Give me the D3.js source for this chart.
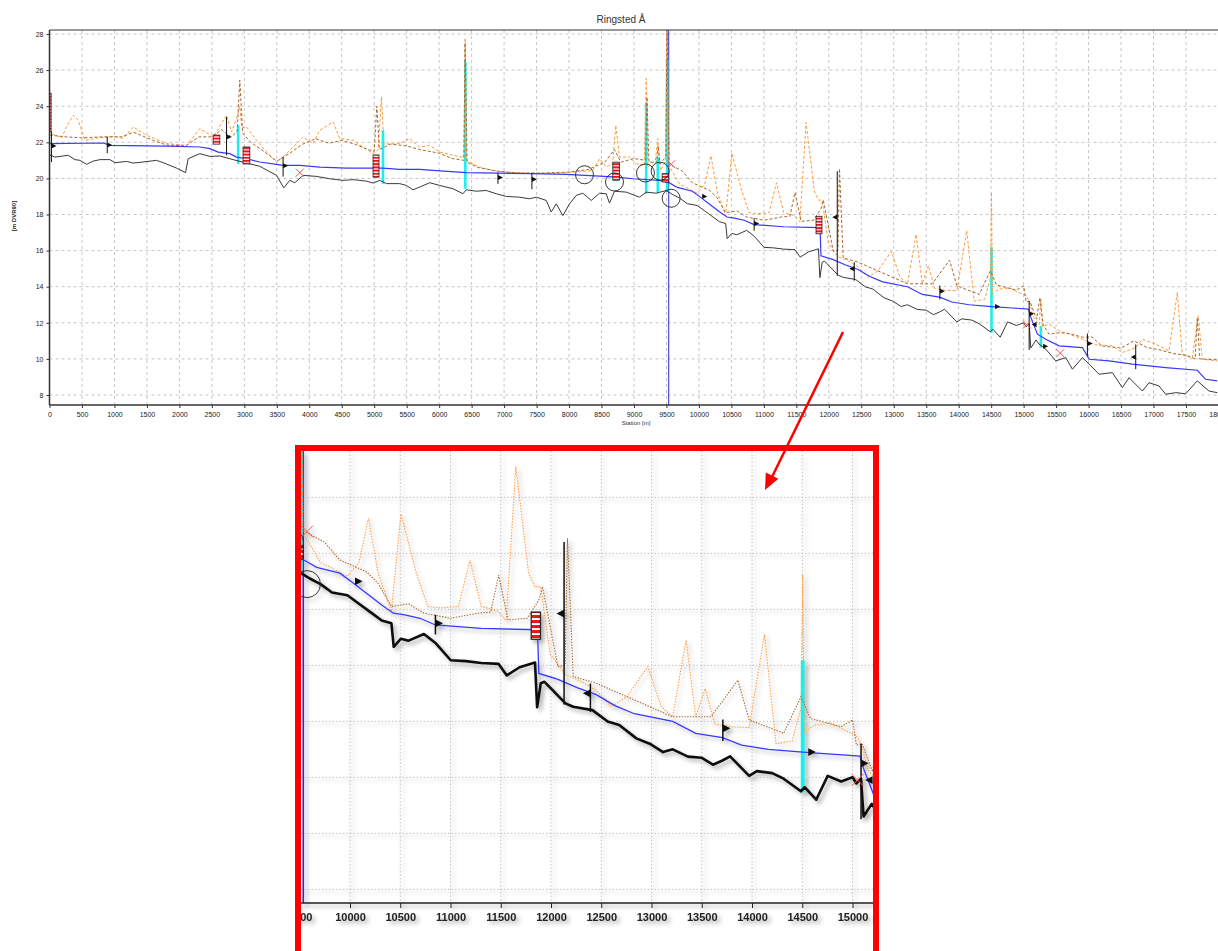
<!DOCTYPE html>
<html><head><meta charset="utf-8">
<script src="https://cdn.jsdelivr.net/npm/d3@7"></script>
<style>body{margin:0;background:#fff}svg{display:block;font-family:"Liberation Sans",Arial,sans-serif}</style>
</head><body>
<svg id="c" width="1218" height="951"></svg>
<script>
// ---------------- DATA ----------------
const title = "Ringsted Å";
const yLabel = "[m DVR90]";
const xLabel = "Station [m]";
const xTicks = d3.range(0, 18001, 500);
const yTicks = d3.range(8, 29, 2);
const insetXTicks = d3.range(9500, 15001, 500);
const insetYTicks = d3.range(8, 23, 2);

const bedStation = [0,85,289,392,469,572,674,777,931,1008,1188,1289,1443,1649,1751,1957,2095,2135,2315,2469,2623,2828,3034,3238,3495,3608,3700,3777,3905,4111,4315,4520,4674,4880,4982,5085,5188,5392,5495,5597,5700,5854,6008,6212,6366,6418,6572,6726,6880,7034,7238,7392,7495,7649,7726,7803,7905,8008,8111,8212,8342,8469,8572,8623,8700,8880,9085,9188,9342,9495,9600,9707,9821,9974,10089,10203,10316,10412,10435,10507,10583,10736,10850,11002,11154,11306,11479,11560,11688,11841,11862,11898,11935,12144,12221,12412,12564,12679,12849,12982,13115,13211,13363,13497,13611,13706,13782,13972,14048,14201,14315,14487,14524,14639,14753,14887,15001,15039,15085,15110,15191,15238,15341,15495,15649,15751,15905,16008,16162,16366,16520,16623,16828,16931,17085,17188,17342,17495,17674,17854,17980];
const bedLevel = [21.3,21.18,21.28,21.04,21.0,20.78,20.96,21.04,21.04,20.87,20.94,20.85,20.91,21.0,20.87,20.57,20.32,21.09,21.37,21.22,21.24,21.04,20.85,20.67,20.17,19.48,19.89,19.76,20.17,20.11,19.98,19.89,19.93,19.85,19.74,19.89,19.71,19.71,19.61,19.37,19.52,19.76,19.61,19.43,19.15,19.37,19.29,19.33,19.15,19.0,18.96,18.87,18.96,18.78,18.14,18.59,17.94,18.59,19.06,19.18,18.78,19.18,19.15,18.63,19.29,19.24,18.96,19.24,19.18,19.33,19.1,18.9,18.6,18.5,18.2,17.9,17.6,17.5,16.66,16.95,16.88,17.12,16.8,16.18,16.15,16.08,16.05,15.64,15.93,16.1,14.5,15.36,15.41,14.64,14.52,14.4,13.99,13.87,13.39,13.2,12.9,13.0,12.74,12.7,12.45,12.6,12.75,12.05,12.22,12.15,11.95,11.5,11.65,11.2,12.05,11.85,12.0,11.78,11.95,10.6,11.05,10.82,10.54,9.89,10.07,9.43,10.07,9.71,9.15,9.24,8.41,8.96,8.22,8.68,8.5,8.04,8.13,8.07,8.78,8.22,8.13];

const wlStation = [0,828,931,1803,2315,2469,2597,2777,2880,3034,3238,3495,3597,3854,4162,4572,5135,5392,5700,5905,6418,6931,7443,7957,8469,8726,8982,9392,9546,9669,9898,10012,10164,10316,10431,10545,10697,10850,11306,11841,11866,11879,12069,12259,12450,12640,12830,13211,13440,13706,13896,14163,14505,14828,15075,15111,15212,15341,15546,15905,16008,16315,16674,17188,17674,17803,17980];
const wlLevel = [21.93,21.96,21.83,21.79,21.74,21.65,21.46,21.37,21.18,21.09,20.91,20.78,20.72,20.72,20.63,20.57,20.57,20.5,20.5,20.44,20.32,20.29,20.26,20.22,20.13,20.07,19.98,19.89,19.75,19.5,19.29,18.99,18.57,18.15,17.86,17.8,17.68,17.44,17.32,17.27,17.2,15.71,15.5,15.2,14.95,14.55,14.27,14.0,13.57,13.42,13.15,13.0,12.9,12.82,12.76,12.3,11.37,11.09,10.72,10.63,9.98,9.89,9.71,9.52,9.37,8.87,8.78];

const leftBankStation = [0,15,188,265,366,443,546,777,1008,1135,1289,1495,1803,2111,2315,2520,2726,2803,2880,2930,2960,3034,3188,3342,3495,3597,3751,3905,4058,4162,4366,4469,4674,4982,5060,5111,5150,5392,5546,5700,5854,6008,6212,6380,6400,6420,6623,6828,7034,7443,7854,8366,8469,8572,8670,8720,8777,8931,9034,9160,9188,9215,9330,9366,9408,9490,9505,9530,9555,9707,9784,9974,10089,10184,10279,10412,10507,10660,10774,10900,11079,11194,11306,11469,11554,11650,11777,11840,11898,11992,12144,12298,12450,12602,12755,12963,13097,13211,13344,13440,13534,13630,13800,13972,14124,14239,14400,14490,14505,14520,14623,14777,15034,15085,15150,15240,15265,15290,15392,15546,15700,15905,16111,16366,16520,16726,16828,17034,17238,17366,17443,17597,17689,17751,17980];
const leftBankLevel = [25.2,22.5,22.26,22.89,23.5,23.22,22.11,22.26,22.33,22.21,22.85,22.39,21.93,21.83,22.76,22.29,23.5,22.57,23.3,24.0,22.8,22.85,22.11,21.46,20.9,21.18,21.74,22.29,21.93,22.67,23.13,22.21,22.11,21.37,21.6,24.52,21.9,21.93,22.21,21.74,21.83,21.46,21.28,21.17,27.78,21.0,20.63,20.44,20.35,20.26,20.29,20.44,21.09,20.63,20.83,22.94,21.18,21.18,20.81,20.72,25.54,20.63,21.0,22.2,20.44,21.0,28.8,21.0,20.6,19.66,19.54,19.18,19.66,21.26,19.3,17.93,21.4,19.3,18.1,18.05,18.1,19.76,18.1,17.94,17.6,23.1,19.3,18.8,18.8,16.4,15.66,15.43,15.1,14.52,14.88,15.95,14.52,14.16,16.9,14.16,15.17,13.9,13.8,13.78,17.1,13.2,13.3,14.5,19.24,13.6,13.87,13.93,13.5,13.22,12.3,11.9,13.3,11.8,11.93,11.56,11.37,11.09,10.78,10.72,10.35,10.63,11.09,10.82,10.44,13.68,10.26,10.07,12.39,9.98,9.89];

const rightBankStation = [0,250,500,800,1100,1300,1600,1800,2100,2300,2500,2650,2800,2890,2930,2975,3100,3300,3500,3700,3900,4100,4300,4500,4700,4900,5000,5040,5080,5250,5500,5700,6000,6200,6380,6400,6430,6600,6900,7200,7600,8000,8300,8550,8700,8800,9000,9180,9200,9230,9350,9370,9400,9490,9510,9540,9745,9898,10164,10279,10412,10583,10736,11002,11269,11400,11479,11573,11764,11879,11916,12069,12140,12164,12221,12450,12755,13211,13592,13859,13972,14315,14487,14582,14887,15001,15039,15095,15200,15250,15300,15392,15560,15700,15905,16050,16200,16500,16700,16900,17100,17300,17500,17640,17674,17710,17980];
const rightBankLevel = [22.4,22.3,22.25,22.3,22.3,22.55,22.1,21.85,21.8,22.3,22.3,22.7,22.3,22.6,25.44,22.5,22.0,21.5,20.95,21.4,21.9,22.2,21.95,22.1,21.9,21.6,21.5,24.0,21.6,21.9,21.8,21.6,21.4,21.1,21.0,27.5,20.9,20.6,20.4,20.3,20.3,20.35,20.5,20.9,21.6,20.9,21.1,21.0,24.5,20.9,20.9,21.8,20.8,21.2,28.8,20.8,20.4,19.76,19.34,18.93,18.1,18.2,17.86,17.68,17.86,17.9,19.22,17.62,17.68,18.33,18.8,15.95,16.0,20.54,15.6,15.36,14.88,14.16,14.16,15.47,14.05,13.57,14.88,14.1,13.81,14.05,13.15,13.2,12.2,13.4,11.9,11.37,11.45,11.41,11.2,11.22,10.72,10.6,11.0,10.63,10.5,10.3,10.2,10.0,12.3,10.0,9.95];

// structures (cyan): station, top level, bottom level
const structStation = [2905,5135,6403,9188,9366,9510,14505,15265];
const structTop     = [22.94,22.67,26.46,24.15,21.18,26.56,16.18,11.83];
const structBottom  = [20.8,19.7,19.43,19.15,19.18,19.24,11.46,10.63];

// culverts / bridges (striped boxes): from station, to station, top, bottom
const culvertFrom   = [-15,2520,2980,4982,8674,9434,11803];
const culvertTo     = [25,2623,3085,5074,8777,9535,11895];
const culvertTop    = [24.7,22.4,21.74,21.3,20.9,20.26,17.9];
const culvertBottom = [22.6,21.9,20.8,20.07,19.9,19.8,16.93];

// flags: station, top, bottom, triangle level, direction (1 right, -1 left)
const flagStation = [30,889,2726,3597,6905,7428,10850,12130,12392,13710,15085,15982,16726,10050,14560,15200,15300];
const flagTop     = [22.6,22.3,23.4,21.18,20.3,20.3,17.8,20.4,15.35,14.06,13.2,11.4,10.8,null,null,null,null];
const flagBottom  = [20.9,21.4,21.28,20.1,19.7,19.4,17.1,14.6,14.33,13.3,10.5,10.17,9.43,null,null,null,null];
const flagLevel   = [21.8,21.85,22.3,20.7,20.05,19.95,17.5,17.85,15.0,13.75,12.5,10.85,10.1,19.0,12.9,11.9,10.7];
const flagDir     = [1,1,1,1,1,1,1,-1,-1,1,1,1,-1,1,1,-1,1];

// circles and crosses
const circleStation = [8238,8700,9177,9403,9572];
const circleLevel   = [20.2,19.8,20.3,20.4,18.9];
const crossStation  = [3854,9573,15050,15565];
const crossLevel    = [20.32,20.78,11.9,10.32];

const cursorStation = 9535;

// ---------------- DRAW ----------------
const svg = d3.select("#c");
const defs = svg.append("defs");

function stripe(id, h) {
  const p = defs.append("pattern").attr("id", id).attr("patternUnits", "userSpaceOnUse")
    .attr("width", 10).attr("height", h);
  p.append("rect").attr("width", 10).attr("height", h).attr("fill", "#e8141c");
  p.append("rect").attr("y", h * 0.62).attr("width", 10).attr("height", h * 0.38).attr("fill", "#fff");
}
stripe("stripeMain", 3.2);
stripe("stripeInset", 5);

const sh = defs.append("filter").attr("id", "sh").attr("filterUnits", "userSpaceOnUse")
  .attr("x", 280).attr("y", 430).attr("width", 640).attr("height", 540);
sh.append("feDropShadow").attr("dx", 3).attr("dy", 3).attr("stdDeviation", 2.2)
  .attr("flood-color", "#000").attr("flood-opacity", 0.33);

const P = {l: 49.5, t: 30, r: 1218, b: 405};
const x = d3.scaleLinear().domain([0, 17500]).range([49.5, 1186]);
const y = d3.scaleLinear().domain([28, 8]).range([34, 395]);

defs.append("clipPath").attr("id", "clipMain").append("rect")
  .attr("x", P.l).attr("y", P.t).attr("width", P.r - P.l).attr("height", P.b - P.t);

function zip(s, v) { return s.map((d, i) => [d, v[i]]); }
const bed = zip(bedStation, bedLevel), wl = zip(wlStation, wlLevel),
      lb = zip(leftBankStation, leftBankLevel), rb = zip(rightBankStation, rightBankLevel);

function drawContent(g, xs, ys, k, st) {
  const line = d3.line().x(d => xs(d[0])).y(d => ys(d[1]));
  // cursor line
  g.append("line").attr("x1", xs(cursorStation)).attr("x2", xs(cursorStation))
    .attr("y1", 0).attr("y2", 951).attr("stroke", "#2b2bd0").attr("stroke-width", st.cursorW);
  // structures
  g.selectAll(null).data(structStation).join("line")
    .attr("x1", d => xs(d)).attr("x2", d => xs(d))
    .attr("y1", (d, i) => ys(structTop[i])).attr("y2", (d, i) => ys(structBottom[i]))
    .attr("stroke", "#19f0f0").attr("stroke-width", 2.6 * k);
  g.append("path").attr("d", line(lb)).attr("fill", "none").attr("stroke", "#ff9a3c")
    .attr("stroke-width", st.bankW).attr("stroke-dasharray", st.dash);
  g.append("path").attr("d", line(rb)).attr("fill", "none").attr("stroke", "#a5692f")
    .attr("stroke-width", st.bankW).attr("stroke-dasharray", st.dash);
  g.append("path").attr("d", line(bed)).attr("fill", "none").attr("stroke", st.bedC)
    .attr("stroke-width", st.bedW).attr("stroke-linejoin", "round");
  g.append("path").attr("d", line(wl)).attr("fill", "none").attr("stroke", "#3838ff")
    .attr("stroke-width", st.wlW);
  // culverts
  g.selectAll(null).data(culvertFrom).join("rect")
    .attr("x", d => xs(d)).attr("width", (d, i) => xs(culvertTo[i]) - xs(d))
    .attr("y", (d, i) => ys(culvertTop[i])).attr("height", (d, i) => ys(culvertBottom[i]) - ys(culvertTop[i]))
    .attr("fill", `url(#${st.stripe})`).attr("stroke", "#222").attr("stroke-width", 0.8 * k);
  // flags
  flagStation.forEach((s, i) => {
    const fx = xs(s);
    if (flagTop[i] !== null) {
      g.append("line").attr("x1", fx).attr("x2", fx).attr("y1", ys(flagTop[i])).attr("y2", ys(flagBottom[i]))
        .attr("stroke", "#111").attr("stroke-width", 1 * k);
    }
    const fy = ys(flagLevel[i]), d = flagDir[i], w = 5 * k, h = 2.6 * k;
    g.append("path").attr("d", `M${fx},${fy - h}L${fx + d * w},${fy}L${fx},${fy + h}Z`).attr("fill", "#111");
  });
  // circles
  g.selectAll(null).data(circleStation).join("circle")
    .attr("cx", d => xs(d)).attr("cy", (d, i) => ys(circleLevel[i])).attr("r", 9 * k)
    .attr("fill", "none").attr("stroke", "#222").attr("stroke-width", 0.9);
  // crosses
  crossStation.forEach((s, i) => {
    const cx = xs(s), cy = ys(crossLevel[i]), r = 4 * k;
    g.append("path").attr("d", `M${cx - r},${cy - r}L${cx + r},${cy + r}M${cx - r},${cy + r}L${cx + r},${cy - r}`)
      .attr("stroke", "#ff5050").attr("stroke-width", 1);
  });
}

// ---- main chart ----
const main = svg.append("g");
const grid = main.append("g").attr("stroke", "#c6c6c6").attr("stroke-dasharray", "3,3").attr("stroke-width", 1);
grid.selectAll(null).data(xTicks.filter(d => d > 0)).join("line")
  .attr("x1", d => x(d)).attr("x2", d => x(d)).attr("y1", P.t).attr("y2", P.b);
grid.selectAll(null).data(yTicks).join("line")
  .attr("x1", P.l).attr("x2", P.r).attr("y1", d => y(d)).attr("y2", d => y(d));

drawContent(main.append("g").attr("clip-path", "url(#clipMain)"), x, y, 1,
  {bedW: 1, bedC: "#3a3a3a", wlW: 1.2, bankW: 1, dash: "3,2", cursorW: 1, stripe: "stripeMain"});

// axes
const xAxis = main.append("g").attr("transform", `translate(0,${P.b})`)
  .call(d3.axisBottom(x).tickValues(xTicks).tickSize(3).tickSizeOuter(0).tickFormat(d3.format("d")));
const yAxis = main.append("g").attr("transform", `translate(${P.l},0)`)
  .call(d3.axisLeft(y).tickValues(yTicks).tickSize(3).tickSizeOuter(0).tickFormat(d3.format("d")));
[xAxis, yAxis].forEach(a => {
  a.select(".domain").remove();
  a.selectAll("line").attr("stroke", "#333");
  a.selectAll("text").attr("font-size", 7).attr("fill", "#222").attr("font-family", "Liberation Sans, Arial");
});
xAxis.selectAll("text").attr("dy", "0.9em");
main.append("line").attr("x1", P.l).attr("x2", P.r).attr("y1", P.b).attr("y2", P.b).attr("stroke", "#333").attr("stroke-width", 1.5);
main.append("line").attr("x1", P.l).attr("x2", P.l).attr("y1", P.t).attr("y2", P.b).attr("stroke", "#333").attr("stroke-width", 1.5);
main.append("line").attr("x1", P.l).attr("x2", P.r).attr("y1", P.t).attr("y2", P.t).attr("stroke", "#333").attr("stroke-width", 1.2);

main.append("text").attr("x", 621).attr("y", 23).attr("text-anchor", "middle")
  .attr("font-size", 10).attr("fill", "#333").text(title);
main.append("text").attr("transform", "translate(16,216) rotate(-90)").attr("text-anchor", "middle")
  .attr("font-size", 6).attr("font-weight", "bold").attr("fill", "#222").text(yLabel);
main.append("text").attr("x", 636).attr("y", 425).attr("text-anchor", "middle")
  .attr("font-size", 6).attr("fill", "#333").text(xLabel);

// ---- inset (magnified view) ----
const xi = d3.scaleLinear().domain([10000, 15000]).range([350, 852.5]);
const yi = d3.scaleLinear().domain([20, 8]).range([553.3, 889.3]);
const I = {l: 301, t: 451, r: 873, b: 903};
defs.append("clipPath").attr("id", "clipInset").append("rect")
  .attr("x", I.l).attr("y", I.t).attr("width", I.r - I.l).attr("height", I.b - I.t);
defs.append("clipPath").attr("id", "clipInsetAll").append("rect")
  .attr("x", I.l).attr("y", I.t).attr("width", I.r - I.l).attr("height", 500);

const inset = svg.append("g").attr("clip-path", "url(#clipInsetAll)");
inset.append("rect").attr("x", I.l).attr("y", I.t).attr("width", I.r - I.l).attr("height", 500).attr("fill", "#fff");
const ig = inset.append("g").attr("filter", "url(#sh)");
const igc = ig.append("g").attr("clip-path", "url(#clipInset)");
const igrid = igc.append("g").attr("stroke", "#c4c4c4").attr("stroke-dasharray", "1.5,2").attr("stroke-width", 1);
igrid.selectAll(null).data(insetXTicks).join("line")
  .attr("x1", d => xi(d)).attr("x2", d => xi(d)).attr("y1", I.t).attr("y2", I.b);
igrid.selectAll(null).data(insetYTicks).join("line")
  .attr("x1", I.l).attr("x2", I.r).attr("y1", d => yi(d)).attr("y2", d => yi(d));
drawContent(igc, xi, yi, 1.5,
  {bedW: 2.6, bedC: "#111", wlW: 1.3, bankW: 1.1, dash: "1.4,1.4", cursorW: 1.6, stripe: "stripeInset"});
const ixAxis = ig.append("g").attr("transform", `translate(0,${I.b})`)
  .call(d3.axisBottom(xi).tickValues(insetXTicks).tickSize(5).tickSizeOuter(0).tickFormat(d3.format("d")));
ixAxis.select(".domain").remove();
ixAxis.selectAll("line").attr("stroke", "#222");
ixAxis.selectAll("text").attr("font-size", 11).attr("font-weight", "bold").attr("fill", "#222")
  .attr("font-family", "Liberation Sans, Arial").attr("dy", "0.95em");
ig.append("line").attr("x1", I.l).attr("x2", I.r).attr("y1", I.b).attr("y2", I.b).attr("stroke", "#222").attr("stroke-width", 1.5);

// red frame + arrow
svg.append("rect").attr("x", 298).attr("y", 448).attr("width", 578).attr("height", 530)
  .attr("fill", "none").attr("stroke", "#ff0000").attr("stroke-width", 6);
svg.append("line").attr("x1", 843).attr("y1", 332).attr("x2", 772).attr("y2", 477)
  .attr("stroke", "#ff0000").attr("stroke-width", 2.5);
svg.append("path").attr("d", "M765,490L778.4,478.8L765.8,472.6Z").attr("fill", "#ff0000");
</script>
</body></html>
